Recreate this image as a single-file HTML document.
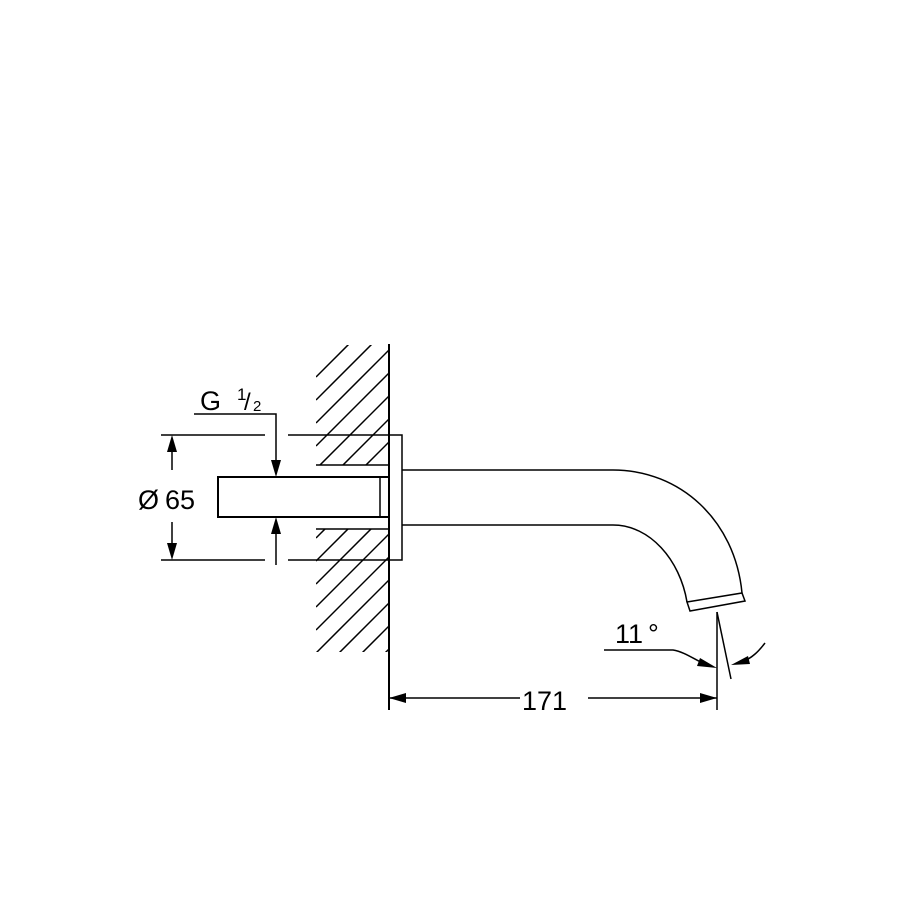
<!DOCTYPE html>
<html><head><style>html,body{margin:0;padding:0;background:#fff}svg{display:block}</style></head>
<body>
<svg width="900" height="900" viewBox="0 0 900 900" xmlns="http://www.w3.org/2000/svg">
<defs>
<clipPath id="h"><rect x="316" y="345" width="73" height="120"/><rect x="316" y="529" width="73" height="123"/></clipPath>
</defs>
<rect width="900" height="900" fill="#fff"/>
<g clip-path="url(#h)" stroke="#000" stroke-width="1.5">
<line x1="389" y1="304" x2="316" y2="377"/>
<line x1="389" y1="327" x2="316" y2="400"/>
<line x1="389" y1="350" x2="316" y2="423"/>
<line x1="389" y1="373" x2="316" y2="446"/>
<line x1="389" y1="396" x2="316" y2="469"/>
<line x1="389" y1="419" x2="316" y2="492"/>
<line x1="389" y1="442" x2="316" y2="515"/>
<line x1="389" y1="465" x2="316" y2="538"/>
<line x1="389" y1="488" x2="316" y2="561"/>
<line x1="389" y1="511" x2="316" y2="584"/>
<line x1="389" y1="534" x2="316" y2="607"/>
<line x1="389" y1="557" x2="316" y2="630"/>
<line x1="389" y1="580" x2="316" y2="653"/>
<line x1="389" y1="603" x2="316" y2="676"/>
<line x1="389" y1="626" x2="316" y2="699"/>
<line x1="389" y1="649" x2="316" y2="722"/>
</g>
<g stroke="#000" fill="none" stroke-width="1.5">
<line x1="316" y1="465" x2="389" y2="465"/>
<line x1="316" y1="529" x2="389" y2="529"/>
<line x1="389" y1="344" x2="389" y2="710" stroke-width="2"/>
<rect x="389" y="435" width="13" height="125"/>
<rect x="218" y="477" width="171" height="40" stroke-width="2"/>
<line x1="380" y1="477" x2="380" y2="517"/>
<line x1="161" y1="435" x2="265" y2="435"/>
<line x1="288" y1="435" x2="389" y2="435"/>
<line x1="161" y1="560" x2="265" y2="560"/>
<line x1="288" y1="560" x2="389" y2="560"/>
<line x1="172" y1="440" x2="172" y2="470"/>
<line x1="172" y1="522" x2="172" y2="556"/>
<polyline points="194,414 276,414 276,470"/>
<line x1="276" y1="524" x2="276" y2="565"/>
<path d="M402,470 L613,470 C680,470 735,520 742,593"/>
<path d="M402,525 L613,525 C650,525 680,560 687,602"/>
<polygon points="687,602 742,593 745,601 690,611"/>
<line x1="389" y1="698" x2="520" y2="698"/>
<line x1="588" y1="698" x2="717" y2="698"/>
<line x1="717" y1="612" x2="717" y2="710"/>
<line x1="717" y1="612" x2="731" y2="679"/>
<path d="M604,650 L673,650 C685,652 695,660 705,664"/>
<path d="M765,643 C758,652 752,658 742,662"/>
</g>
<g fill="#000">
<polygon points="172,435 167,452 177,452"/>
<polygon points="172,560 167,543 177,543"/>
<polygon points="276,477 271,460 281,460"/>
<polygon points="276,517 271,534 281,534"/>
<polygon points="389,698 406,693 406,703"/>
<polygon points="717,698 700,693 700,703"/>
<polygon points="717,668 700,658 697,666"/>
<polygon points="731,665 748,656 750,664"/>
</g>
<g font-family="Liberation Sans, sans-serif" fill="#000">
<text x="138" y="509" font-size="27">Ø</text>
<text x="165" y="509" font-size="27">65</text>
<text x="200" y="410" font-size="27">G</text>
<text x="237" y="400" font-size="17">1</text>
<text x="244" y="410" font-size="24">/</text>
<text x="253" y="411" font-size="15">2</text>
<text x="522" y="710" font-size="27">171</text>
<text x="615" y="643" font-size="27">11</text>
<text x="648" y="643" font-size="27">°</text>
</g>
</svg>
</body></html>
